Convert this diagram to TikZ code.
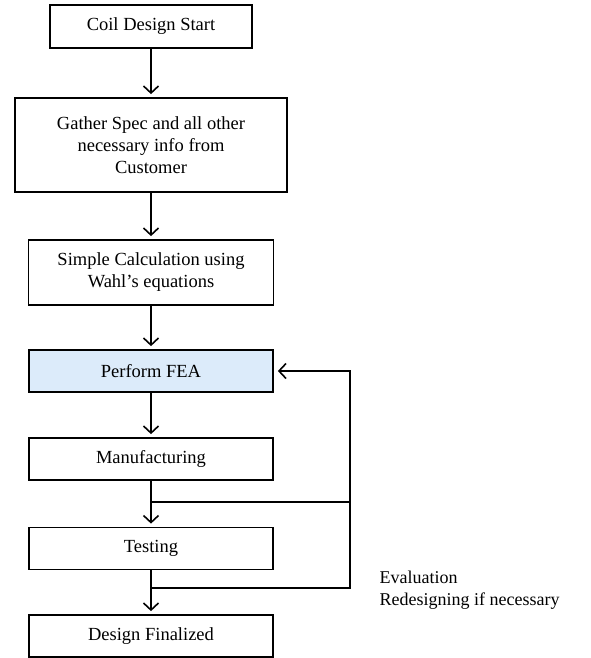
\documentclass[tikz,border=0pt]{standalone}
\usepackage{fontspec}
\setmainfont{Liberation Serif}
\usetikzlibrary{arrows.meta}
\definecolor{feablue}{RGB}{220,235,250}

\begin{document}
\begin{tikzpicture}[x=1pt, y=-1pt,
  stepbox/.style={rectangle, draw=black, line width=1.8pt, align=center,
    minimum width=244pt, minimum height=42pt, inner sep=3pt,
    font=\fontsize{18.5}{22}\selectfont},
  arr/.style={-{Straight Barb[length=7pt, width=15pt]}, line width=1.6pt,
    shorten >=3pt}
]
\useasboundingbox (0,0) rectangle (591,658);

% the steps, top to bottom
\node[stepbox, minimum width=202pt, minimum height=43pt] (start) at (151,26.5) {Coil Design Start};
\node[stepbox, minimum width=272pt, minimum height=94pt] (gather) at (151,145) {Gather Spec and all other\\ necessary info from\\ Customer};
\node[stepbox, minimum width=245pt, minimum height=65pt] (calc) at (151,272.5) {Simple Calculation using\\ Wahl's equations};
\node[stepbox, fill=feablue] (fea) at (151,371) {Perform FEA};
\node[stepbox] (manuf) at (151,459) {Manufacturing};
\node[stepbox] (test) at (151,548.5) {Testing};
\node[stepbox] (final) at (151,636) {Design Finalized};

% branch points of the feedback loop
\coordinate (j1) at (151,502);
\coordinate (j2) at (151,588);
\coordinate (r1) at (350,502);
\coordinate (r2) at (350,588);

% main flow
\draw[arr] (start) -- (gather);
\draw[arr] (gather) -- (calc);
\draw[arr] (calc) -- (fea);
\draw[arr] (fea) -- (manuf);
\draw[arr] (manuf) -- (test);
\draw[arr] (test) -- (final);

% loop back to FEA
\draw[line width=1.6pt] (j1) -- (r1);
\draw[arr, shorten >=4pt] (j2) -- (r2) |- (fea.east);

\node[anchor=west, align=left, font=\fontsize{18}{22}\selectfont] (eval) at (376,590) {Evaluation\\ Redesigning if necessary};

\end{tikzpicture}
\end{document}
